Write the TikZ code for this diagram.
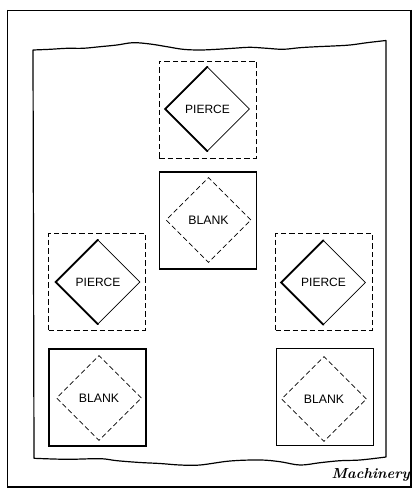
\documentclass[tikz,border=0pt]{standalone}
\usepackage{fontspec}
\setsansfont{Liberation Sans}
\usetikzlibrary{shapes.geometric}
\tikzset{
  dashsq/.style={draw, dash pattern=on 5.5pt off 3pt, line width=0.9pt, minimum width=97pt, minimum height=97pt, inner sep=0pt},
  solidsq/.style={draw, line width=1.3pt, minimum width=97pt, minimum height=97pt, inner sep=0pt},
  piercedia/.style={diamond, draw, line width=0.7pt, minimum width=84pt, minimum height=84pt, inner sep=0pt, font=\sffamily\fontsize{12}{14}\selectfont},
  blankdia/.style={diamond, draw, dash pattern=on 5pt off 3pt, line width=0.8pt, minimum width=85pt, minimum height=85pt, inner sep=0pt, font=\sffamily\fontsize{12.3}{14}\selectfont},
  thickedge/.style={line width=1.8pt, line cap=round, line join=miter},
}
\begin{document}
\begin{tikzpicture}[x=1pt,y=-1pt]
\useasboundingbox (0,0) rectangle (415,489);
% outer frame
\draw[line width=0.9pt] (7,10) -- (411,10);
\draw[line width=0.9pt] (7,10) -- (7,487);
\draw[line width=2pt] (411,10) -- (411,487);
\draw[line width=2.2pt] (7,487) -- (412,487);
% strip with wavy ends
\draw[line width=1.2pt, line join=round]
  plot[smooth, tension=0.6] coordinates {(33,50) (50,49.3) (67,48.3) (83,48.3) (100,46.7) (117,45) (133,42.7) (150,44) (167,46.7) (183,49.3) (200,50) (217,49.3) (233,48.3) (250,47.3) (267,48.3) (283,49.3) (300,47.7) (317,46.7) (333,46) (350,45) (367,42.7) (386,40.5)}
  -- plot[smooth, tension=0.6] coordinates {(386,457) (360,460) (340,460.7) (320,462.7) (300,465) (280,461.7) (260,460) (230,461) (200,465) (180,465) (160,463.5) (140,462.5) (117,460.7) (100,458.7) (67,459.3) (34,458.3)}
  -- cycle;
% top pierce
\node[dashsq] (ps1) at (207.5,109.5) {};
\node[piercedia] (pd1) at (207.5,109) {PIERCE};
\draw[thickedge] (pd1.north) -- (pd1.west) -- (pd1.south);
% top blank
\node[solidsq] (bs1) at (208,220.5) {};
\node[blankdia] (bd1) at (208.5,220) {BLANK};
% left pierce
\node[dashsq] (ps2) at (97,281.5) {};
\node[piercedia] (pd2) at (98,282) {PIERCE};
\draw[thickedge] (pd2.north) -- (pd2.west) -- (pd2.south);
% left blank
\node[solidsq] (bs2) at (97.5,397.5) {};
\node[blankdia] (bd2) at (99,398) {BLANK};
% right pierce
\node[dashsq] (ps3) at (324,281.5) {};
\node[piercedia] (pd3) at (323.5,282.5) {PIERCE};
\draw[thickedge] (pd3.north) -- (pd3.west) -- (pd3.south);
% right blank
\node[solidsq] (bs3) at (325,397) {};
\node[blankdia] (bd3) at (324,399) {BLANK};
% caption
\node[anchor=base east, inner sep=0pt, font=\fontsize{14.5}{16}\selectfont\bfseries\itshape] (cap) at (410,478.5) {Machinery};
\end{tikzpicture}
\end{document}
